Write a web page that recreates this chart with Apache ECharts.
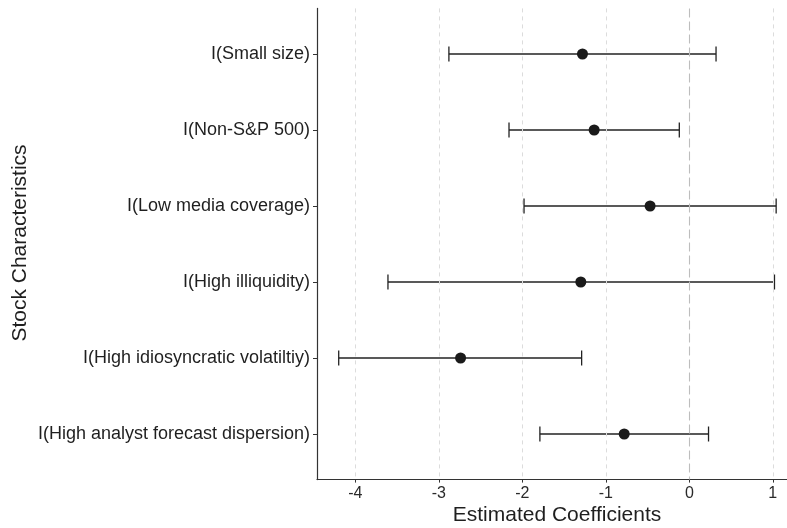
<!DOCTYPE html>
<html>
<head>
<meta charset="utf-8">
<script src="https://cdn.jsdelivr.net/npm/echarts@6/dist/echarts.min.js"></script>
<style>html,body{margin:0;padding:0;background:#fff;}#c{width:787px;height:528px;}</style>
</head>
<body>
<div id="c"></div>
<script>
const categories = ['I(Small size)', 'I(Non-S&P 500)', 'I(Low media coverage)', 'I(High illiquidity)', 'I(High idiosyncratic volatiltiy)', 'I(High analyst forecast dispersion)'];
const estimates = [-1.28, -1.14, -0.47, -1.30, -2.74, -0.78];
const lower = [-2.88, -2.16, -1.98, -3.61, -4.20, -1.79];
const upper = [0.32, -0.12, 1.04, 1.02, -1.29, 0.23];
const xTicks = [-4, -3, -2, -1, 0, 1];
const xTitle = 'Estimated Coefficients';
const yTitle = 'Stock Characteristics';

const catPos = categories.map((c, i) => i + 1);
const font = 'Liberation Sans, Arial, sans-serif';

const chart = echarts.init(document.getElementById('c'), null, {renderer: 'canvas'});
const gridLines = xTicks.map(t => ({
  xAxis: t,
  lineStyle: t === 0
    ? {color: '#bdbdbd', type: [9, 4], width: 1.1}
    : {color: '#dcdcdc', type: [4, 4], width: 1}
}));

chart.setOption({
  animation: false,
  backgroundColor: '#fff',
  grid: {left: 317, right: 0, top: 8.4, bottom: 48.4, containLabel: false},
  xAxis: {
    type: 'value', min: -4.46, max: 1.17,
    axisLine: {show: true, onZero: false, lineStyle: {color: '#333', width: 1.2}},
    axisTick: {show: true, customValues: xTicks, length: 3, lineStyle: {color: '#333'}},
    splitLine: {show: false},
    axisLabel: {customValues: xTicks, color: '#2a2a2a', fontSize: 16, fontFamily: font, margin: 6,
      formatter: v => String(v)}
  },
  yAxis: {
    type: 'value', inverse: true, min: 0.4, max: 6.6,
    axisLine: {show: true, onZero: false, lineStyle: {color: '#333', width: 1.2}},
    axisTick: {show: true, customValues: catPos, length: 4, lineStyle: {color: '#333'}},
    splitLine: {show: false},
    axisLabel: {customValues: catPos, color: '#1f1f1f', fontSize: 18, fontFamily: font, margin: 7,
      formatter: v => categories[Math.round(v) - 1]}
  },
  graphic: [
    {type: 'text', x: 557, y: 515, style: {text: xTitle, fill: '#1f1f1f', font: '21px ' + font, textAlign: 'center', textVerticalAlign: 'middle'}},
    {type: 'text', x: 20, y: 243, rotation: Math.PI / 2, style: {text: yTitle, fill: '#1f1f1f', font: '21px ' + font, textAlign: 'center', textVerticalAlign: 'middle'}}
  ],
  series: [
    {
      type: 'scatter', data: [], z: 1, silent: true,
      markLine: {silent: true, symbol: ['none', 'none'], label: {show: false}, data: gridLines, animation: false}
    },
    {
      type: 'custom', z: 3, silent: true,
      data: categories.map((c, i) => [catPos[i], lower[i], upper[i]]),
      encode: {x: [1, 2], y: 0},
      renderItem: (params, api) => {
        const y = api.value(0);
        const a = api.coord([api.value(1), y]);
        const b = api.coord([api.value(2), y]);
        const h = 7.5;
        const st = {stroke: '#222', lineWidth: 1.3};
        return {type: 'group', children: [
          {type: 'line', shape: {x1: a[0], y1: a[1], x2: b[0], y2: b[1]}, style: st},
          {type: 'line', shape: {x1: a[0], y1: a[1] - h, x2: a[0], y2: a[1] + h}, style: st},
          {type: 'line', shape: {x1: b[0], y1: b[1] - h, x2: b[0], y2: b[1] + h}, style: st}
        ]};
      }
    },
    {
      type: 'scatter', z: 4, silent: true,
      symbol: 'circle', symbolSize: 11,
      itemStyle: {color: '#1a1a1a', opacity: 1},
      data: categories.map((c, i) => [estimates[i], catPos[i]])
    }
  ]
});
</script>
</body>
</html>
